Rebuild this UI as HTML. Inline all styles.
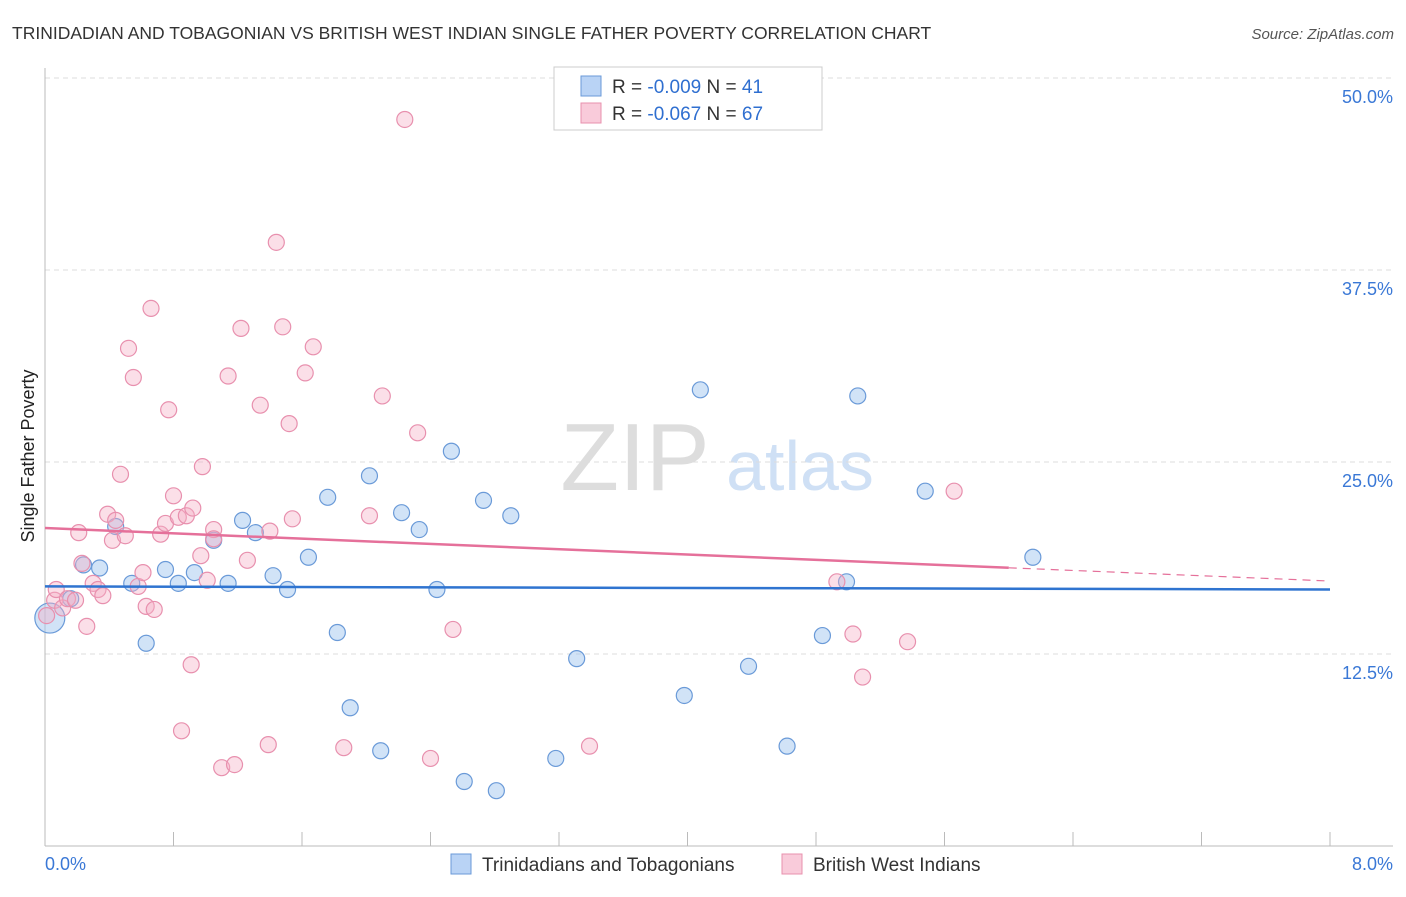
<!DOCTYPE html>
<html><head><meta charset="utf-8"><style>
body{margin:0;background:#fff;font-family:"Liberation Sans",sans-serif}
svg text{font-family:"Liberation Sans",sans-serif}
</style></head><body>
<svg id="c" width="1406" height="892" viewBox="0 0 1406 892" xmlns="http://www.w3.org/2000/svg">
<text x="12" y="39" font-size="17.5" fill="#333">TRINIDADIAN AND TOBAGONIAN VS BRITISH WEST INDIAN SINGLE FATHER POVERTY CORRELATION CHART</text>
<text x="1394" y="39" font-size="15" fill="#555" font-style="italic" text-anchor="end">Source: ZipAtlas.com</text>
<g>
<text x="635" y="490" font-size="96" fill="#ddd" font-family="Liberation Serif" text-anchor="middle">ZIP</text>
<text x="800" y="490" font-size="70" fill="#cfe0f5" text-anchor="middle">atlas</text>
</g>
<g id="grid"></g>
<g id="axes"></g>
<g id="marks"></g>
<text transform="translate(34,456) rotate(-90)" font-size="18" fill="#222" text-anchor="middle">Single Father Poverty</text>
<g>
<rect x="554" y="67" width="268" height="63" fill="#fff" stroke="#ccc"/>
<rect x="581" y="76" width="20" height="20" fill="#b9d3f5" stroke="#6a9ad8"/>
<rect x="581" y="103" width="20" height="20" fill="#f9cbda" stroke="#e890ae"/>
<text x="612" y="93" font-size="19" fill="#333">R = <tspan fill="#2f6fd0">-0.009</tspan>   N = <tspan fill="#2f6fd0">41</tspan></text>
<text x="612" y="120" font-size="19" fill="#333">R = <tspan fill="#2f6fd0">-0.067</tspan>   N = <tspan fill="#2f6fd0">67</tspan></text>
</g>
<g>
<rect x="451" y="854" width="20" height="20" fill="#b9d3f5" stroke="#6a9ad8"/>
<text x="482" y="871" font-size="19" fill="#333">Trinidadians and Tobagonians</text>
<rect x="782" y="854" width="20" height="20" fill="#f9cbda" stroke="#e890ae"/>
<text x="813" y="871" font-size="19" fill="#333">British West Indians</text>
</g>
</svg>
<script>
const yTicks=[12.5,25,37.5,50];
const yTickLabels=["12.5%","25.0%","37.5%","50.0%"];
const xTickLabels=["0.0%","8.0%"];
const blueX=[0.03,0.16,0.24,0.34,0.44,0.54,0.63,0.75,0.83,0.93,1.05,1.14,1.23,1.31,1.42,1.51,1.64,1.76,1.82,1.90,2.02,2.09,2.22,2.33,2.44,2.53,2.61,2.73,2.81,2.90,3.18,3.31,3.98,4.08,4.38,4.62,4.84,4.99,5.06,5.48,6.15];
const blueY=[14.84,16.1,18.3,18.1,20.8,17.1,13.2,18.0,17.1,17.8,19.9,17.1,21.2,20.4,17.6,16.7,18.8,22.7,13.9,9.0,24.1,6.2,21.7,20.6,16.7,25.7,4.2,22.5,3.6,21.5,5.7,12.2,9.8,29.7,11.7,6.5,13.7,17.2,29.3,23.1,18.8];
const pinkX=[0.01,0.06,0.07,0.11,0.14,0.19,0.21,0.23,0.26,0.30,0.33,0.36,0.39,0.42,0.44,0.47,0.50,0.52,0.55,0.58,0.61,0.63,0.66,0.68,0.72,0.75,0.77,0.80,0.83,0.85,0.88,0.91,0.92,0.97,0.98,1.01,1.05,1.05,1.10,1.14,1.18,1.22,1.26,1.34,1.39,1.40,1.44,1.48,1.52,1.54,1.62,1.67,1.86,2.02,2.10,2.24,2.32,2.40,2.54,3.39,4.93,5.03,5.09,5.37,5.66];
const pinkY=[15.0,16.0,16.7,15.5,16.1,16.0,20.4,18.4,14.3,17.1,16.7,16.3,21.6,19.9,21.2,24.2,20.2,32.4,30.5,16.9,17.8,15.6,35.0,15.4,20.3,21.0,28.4,22.8,21.4,7.5,21.5,11.8,22.0,18.9,24.7,17.3,20.6,20.0,5.1,30.6,5.3,33.7,18.6,28.7,6.6,20.5,39.3,33.8,27.5,21.3,30.8,32.5,6.4,21.5,29.3,47.3,26.9,5.7,14.1,6.5,17.2,13.8,11.0,13.3,23.1];
const blueTrend=[16.9,16.7];     // value at x=0 and x=8
const pinkTrend=[20.7,17.25];    // value at x=0 and x=8
const pinkSolidEnd=6.0;

const NS="http://www.w3.org/2000/svg";
const X=v=>45+v/8*1285;
const Y=v=>846-v/12.5*192;
function mk(tag,attrs,parent){const e=document.createElementNS(NS,tag);for(const k in attrs)e.setAttribute(k,attrs[k]);parent.appendChild(e);return e;}
const grid=document.getElementById('grid'),axes=document.getElementById('axes'),marks=document.getElementById('marks');
yTicks.forEach((t,i)=>{
 const l=mk('line',{x1:45,x2:1393,y1:Y(t),y2:Y(t),stroke:'#ddd','stroke-dasharray':'5,4'},grid);
 
 
 const tx=mk('text',{x:1393,y:Y(t)+25,'font-size':18,fill:'#3a78d6','text-anchor':'end'},axes);
 tx.textContent=yTickLabels[i];
 
 
});
mk('line',{x1:45,x2:45,y1:68,y2:846,stroke:'#bbb'},axes);
mk('line',{x1:45,x2:1393,y1:846,y2:846,stroke:'#bbb'},axes);
for(let i=0;i<=10;i++){
 const t=mk('line',{x1:X(i*0.8),x2:X(i*0.8),y1:832,y2:846,stroke:'#bbb'},axes);
 
 
}
const xl0=mk('text',{x:45,y:870,'font-size':18,fill:'#3a78d6'},axes);xl0.textContent=xTickLabels[0];


const xl1=mk('text',{x:1393,y:870,'font-size':18,fill:'#3a78d6','text-anchor':'end'},axes);xl1.textContent=xTickLabels[1];



blueX.forEach((v,i)=>{
 const c=mk('circle',{cx:X(v),cy:Y(blueY[i]),r:i===0?15:8,fill:'rgba(164,199,240,0.5)',stroke:'#6a9ad8','stroke-width':1.2},marks);
 
 
});
pinkX.forEach((v,i)=>{
 const c=mk('circle',{cx:X(v),cy:Y(pinkY[i]),r:8,fill:'rgba(244,174,198,0.4)',stroke:'#e890ae','stroke-width':1.2},marks);
 
 
});
const bl=mk('line',{x1:X(0),x2:X(8),y1:Y(blueTrend[0]),y2:Y(blueTrend[1]),stroke:'#2f74d0','stroke-width':2.5},marks);


const pAt=x=>pinkTrend[0]+(pinkTrend[1]-pinkTrend[0])*x/8;
const pl=mk('line',{x1:X(0),x2:X(pinkSolidEnd),y1:Y(pAt(0)),y2:Y(pAt(pinkSolidEnd)),stroke:'#e5709a','stroke-width':2.5},marks);


const pd=mk('line',{x1:X(pinkSolidEnd),x2:X(8),y1:Y(pAt(pinkSolidEnd)),y2:Y(pAt(8)),stroke:'#e5709a','stroke-width':1.2,'stroke-dasharray':'8,6'},marks);


</script>
</body></html>
